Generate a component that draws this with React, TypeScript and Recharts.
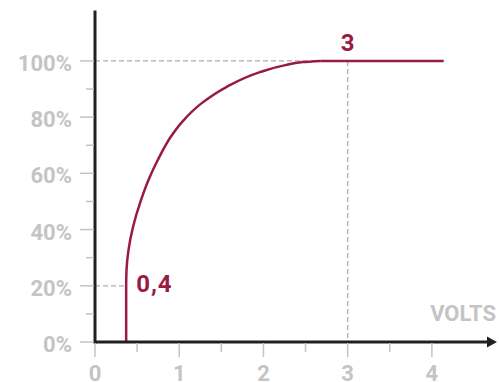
import React from 'react'
import { LineChart, Line, XAxis, YAxis, ReferenceLine, ReferenceDot } from 'recharts'

// curve (volts -> % of full brightness)
const volts = [0.37, 0.37, 0.375, 0.397, 0.452, 0.545, 0.64, 0.75, 0.9, 1.04, 1.26, 1.56, 1.95, 2.26, 2.47, 2.68, 4.14]
const rising = [0, 20, 26, 32.6, 41, 50.4, 58, 65, 73, 78.5, 84.8, 90.7, 95.9, 98.5, 99.6, 100, null]
const plateau = [null, null, null, null, null, null, null, null, null, null, null, null, null, null, null, 100, 100]

const xTicks = [0, 0.5, 1, 1.5, 2, 2.5, 3, 3.5, 4]
const yTicks = [0, 10, 20, 30, 40, 50, 60, 70, 80, 90, 100]

const startVolts = 0.37
const fullVolts = 3
const startLabel = '0,4'
const fullLabel = '3'
const xTitle = 'VOLTS'

const data = volts.map((v, i) => ({ v, rising: rising[i], plateau: plateau[i] }))

const MAROON = '#981b45'
const GREY = '#c4c4c4'
const DASH = '#b0b0b0'
const AXIS = '#231f20'
const FONT = 'Roboto, sans-serif'

function XTick(props: any) {
  const { x, y, payload } = props
  const major = Number.isInteger(payload.value)
  return (
    <g>
      <line x1={x} x2={x} y1={y + 1} y2={y + (major ? 15 : 10)} stroke={GREY} strokeWidth={1.5} />
      {major && (
        <text x={x} y={y + 39} textAnchor="middle" fill={GREY} fontSize={22} fontWeight={700} fontFamily={FONT}>
          {payload.value}
        </text>
      )}
    </g>
  )
}

function YTick(props: any) {
  const { x, y, payload } = props
  const major = payload.value % 20 === 0
  return (
    <g>
      <line x1={x - 1} x2={x - (major ? 15 : 9)} y1={y} y2={y} stroke={GREY} strokeWidth={1.5} />
      {major && (
        <text x={x - 23} y={y + 10} textAnchor="end" fill={GREY} fontSize={22} fontWeight={700} fontFamily={FONT}>
          {payload.value}%
        </text>
      )}
    </g>
  )
}

export default function App() {
  return (
    <div style={{ position: 'absolute', left: 0, top: 0, background: '#fff' }}>
      <LineChart width={499} height={382} data={data} margin={{ top: 12, right: 9, bottom: 0, left: 0 }}>
        <XAxis
          dataKey="v"
          type="number"
          domain={[0, 4.69]}
          allowDataOverflow
          ticks={xTicks}
          interval={0}
          height={40}
          tickSize={0}
          tickMargin={0}
          tickLine={false}
          tick={<XTick />}
          axisLine={{ stroke: AXIS, strokeWidth: 3, strokeLinecap: 'square' }}
        />
        <YAxis
          type="number"
          domain={[0, 117.4]}
          allowDataOverflow
          ticks={yTicks}
          interval={0}
          width={95}
          tickSize={0}
          tickMargin={0}
          tickLine={false}
          tick={<YTick />}
          axisLine={{ stroke: AXIS, strokeWidth: 3, strokeLinecap: 'square' }}
        />
        <ReferenceLine segment={[{ x: 0, y: 100 }, { x: fullVolts, y: 100 }]} stroke={DASH} strokeWidth={1.3} strokeDasharray="5 3" />
        <ReferenceLine segment={[{ x: fullVolts, y: 100 }, { x: fullVolts, y: 0 }]} stroke={DASH} strokeWidth={1.3} strokeDasharray="5 3" />
        <ReferenceLine segment={[{ x: 0, y: 20 }, { x: startVolts, y: 20 }]} stroke={DASH} strokeWidth={1.3} strokeDasharray="5 3" />
        {/* rising part is monotone in y, so interpolate it that way to keep the vertical start smooth */}
        <Line dataKey="rising" type="monotoneY" stroke={MAROON} strokeWidth={2.5} dot={false} isAnimationActive={false} />
        <Line dataKey="plateau" type="linear" stroke={MAROON} strokeWidth={2.5} dot={false} isAnimationActive={false} />
        <ReferenceDot
          x={4.69}
          y={0}
          ifOverflow="visible"
          shape={(p: any) => (
            <g>
              <path d={`M${p.cx - 3},${p.cy - 5.5} L${p.cx + 7},${p.cy} L${p.cx - 3},${p.cy + 5.5} Z`} fill={AXIS} />
              <text x={p.cx + 6} y={p.cy - 21} textAnchor="end" fill={GREY} fontSize={22} fontWeight={700} fontFamily={FONT}>
                {xTitle}
              </text>
            </g>
          )}
        />
        <ReferenceDot
          x={fullVolts}
          y={100}
          ifOverflow="visible"
          shape={(p: any) => (
            <text x={p.cx} y={p.cy - 10} textAnchor="middle" fill={MAROON} fontSize={24} fontWeight={700} fontFamily={FONT}>
              {fullLabel}
            </text>
          )}
        />
        <ReferenceDot
          x={startVolts}
          y={20}
          ifOverflow="visible"
          shape={(p: any) => (
            <text x={p.cx + 10} y={p.cy + 6} fill={MAROON} fontSize={24} fontWeight={700} fontFamily={FONT} letterSpacing={1}>
              {startLabel}
            </text>
          )}
        />
      </LineChart>
    </div>
  )
}
